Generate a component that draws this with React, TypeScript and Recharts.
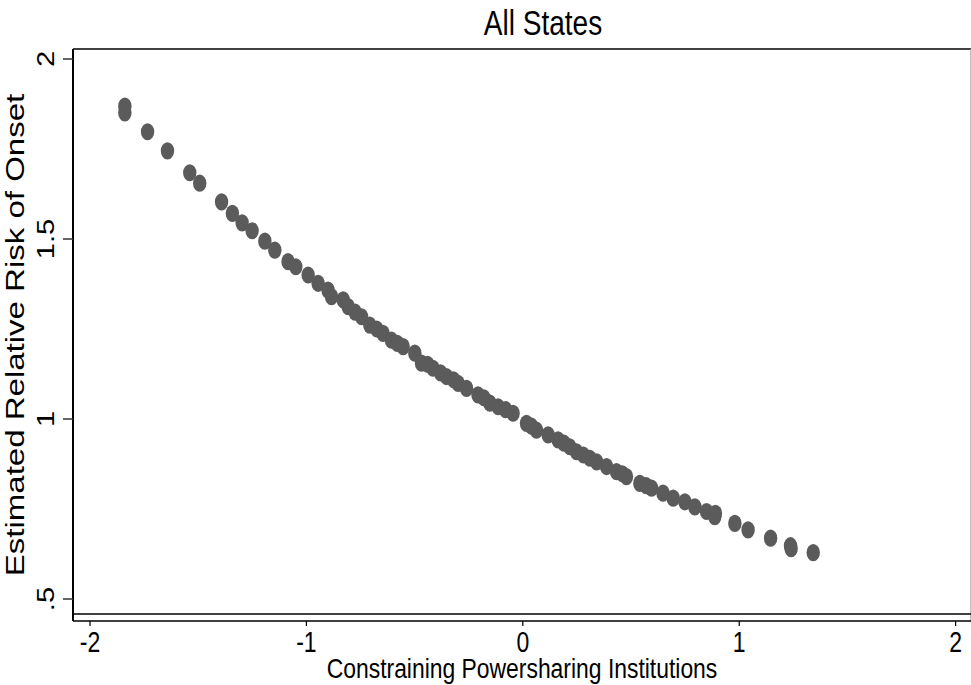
import React from 'react';
import { ScatterChart, Scatter, XAxis, YAxis, ReferenceLine } from 'recharts';

// values
const powersharing = [
  -1.839, -1.839, -1.734, -1.642, -1.539, -1.493, -1.392, -1.342, -1.297, -1.251,
  -1.192, -1.146, -1.085, -1.049, -0.992, -0.946, -0.9, -0.884, -0.83, -0.807,
  -0.775, -0.745, -0.707, -0.675, -0.646, -0.607, -0.58, -0.553, -0.499, -0.468,
  -0.44, -0.415, -0.38, -0.353, -0.32, -0.299, -0.26, -0.207, -0.18, -0.152,
  -0.114, -0.08, -0.045, 0.017, 0.04, 0.063, 0.117, 0.163, 0.19, 0.217,
  0.248, 0.28, 0.31, 0.341, 0.387, 0.433, 0.46, 0.479, 0.541, 0.57,
  0.595, 0.648, 0.695, 0.749, 0.795, 0.849, 0.887, 0.89, 0.98, 1.041,
  1.145, 1.237, 1.24, 1.342,
];
const relativeRisk = [
  1.869, 1.85, 1.798, 1.745, 1.684, 1.655, 1.603, 1.571, 1.545, 1.523,
  1.494, 1.469, 1.437, 1.423, 1.4, 1.377, 1.358, 1.34, 1.331, 1.312,
  1.297, 1.284, 1.261, 1.25, 1.238, 1.219, 1.21, 1.201, 1.183, 1.155,
  1.152, 1.141, 1.128, 1.118, 1.109, 1.099, 1.085, 1.067, 1.059, 1.044,
  1.034, 1.026, 1.016, 0.988, 0.98, 0.969, 0.956, 0.942, 0.933, 0.923,
  0.909, 0.9, 0.891, 0.881, 0.868, 0.854, 0.848, 0.84, 0.821, 0.815,
  0.808, 0.794, 0.78, 0.77, 0.756, 0.743, 0.729, 0.738, 0.71, 0.692,
  0.669, 0.648, 0.64, 0.629,
];
const xTicks = [-2, -1, 0, 1, 2];
const yTicks = [0.5, 1, 1.5, 2];
const yTickLabels = ['.5', '1', '1.5', '2'];

const points = powersharing.map((x, i) => ({ x, y: relativeRisk[i] }));

const FONT = '"Liberation Sans", Arial, Helvetica, sans-serif';
const STRETCH = 1.27; // the picture is stretched vertically
const X_DOMAIN: [number, number] = [-2.0786, 2.0711];
const Y_DOMAIN: [number, number] = [0.4389, 2.0278];
const PLOT_BOTTOM = 0.4583;

const Dot = ({ cx, cy }: any) => (
  <ellipse cx={cx} cy={cy} rx={6.7} ry={8.6} fill="#5b5b5b" />
);

const XTick = ({ x, y, payload }: any) => (
  <text
    transform={`translate(${x},${y + 24}) scale(1,${STRETCH})`}
    textAnchor="middle"
    fontFamily={FONT}
    fontSize={23}
    fill="#000"
  >
    {payload.value}
  </text>
);

const YTick = ({ x, y, payload }: any) => {
  const idx = yTicks.indexOf(payload.value);
  return (
    <text
      transform={`translate(${x - 7},${y}) scale(1,${STRETCH}) rotate(-90)`}
      textAnchor="middle"
      fontFamily={FONT}
      fontSize={23}
      fill="#000"
    >
      {idx >= 0 ? yTickLabels[idx] : payload.value}
    </text>
  );
};

const XLabel = ({ viewBox }: any) => (
  <text
    transform={`translate(${viewBox.x + viewBox.width / 2},${viewBox.y + 57}) scale(1,1.2)`}
    textAnchor="middle"
    fontFamily={FONT}
    fontSize={22.9}
    fill="#000"
  >
    Constraining Powersharing Institutions
  </text>
);

const YLabel = ({ viewBox }: any) => (
  <text
    transform={`translate(${viewBox.x + 11},${viewBox.y + viewBox.height / 2}) scale(1,${STRETCH}) rotate(-90)`}
    textAnchor="middle"
    fontFamily={FONT}
    fontSize={26}
    fill="#000"
  >
    Estimated Relative Risk of Onset
  </text>
);

export default function App() {
  return (
    <div style={{ position: 'absolute', left: 0, top: 0, width: 971, height: 685, background: '#fff' }}>
      <div
        style={{
          position: 'absolute',
          left: 543,
          top: 3,
          transform: `translateX(-50%) scaleY(${STRETCH})`,
          transformOrigin: 'top',
          fontFamily: FONT,
          fontSize: 28,
          whiteSpace: 'nowrap',
          color: '#000',
        }}
      >
        All States
      </div>
      <ScatterChart width={971} height={685} margin={{ top: 49, right: 0, bottom: 0, left: 13 }}>
        <XAxis
          type="number"
          dataKey="x"
          domain={X_DOMAIN}
          ticks={xTicks}
          allowDataOverflow
          height={64}
          tickSize={5}
          tick={<XTick />}
          tickLine={{ stroke: '#000', strokeWidth: 1.2 }}
          axisLine={{ stroke: '#000', strokeWidth: 1.5 }}
          label={<XLabel />}
        />
        <YAxis
          type="number"
          dataKey="y"
          domain={Y_DOMAIN}
          ticks={yTicks}
          allowDataOverflow
          width={60}
          tickSize={10}
          tick={<YTick />}
          tickLine={{ stroke: '#333', strokeWidth: 1.5 }}
          axisLine={{ stroke: '#000', strokeWidth: 2 }}
          label={<YLabel />}
        />
        <ReferenceLine y={Y_DOMAIN[1]} stroke="#000" strokeWidth={1.5} />
        <ReferenceLine x={X_DOMAIN[1]} stroke="#aaa" strokeWidth={1.5} />
        <ReferenceLine y={PLOT_BOTTOM} stroke="#000" strokeWidth={1.5} />
        <Scatter data={points} shape={<Dot />} isAnimationActive={false} />
      </ScatterChart>
    </div>
  );
}
